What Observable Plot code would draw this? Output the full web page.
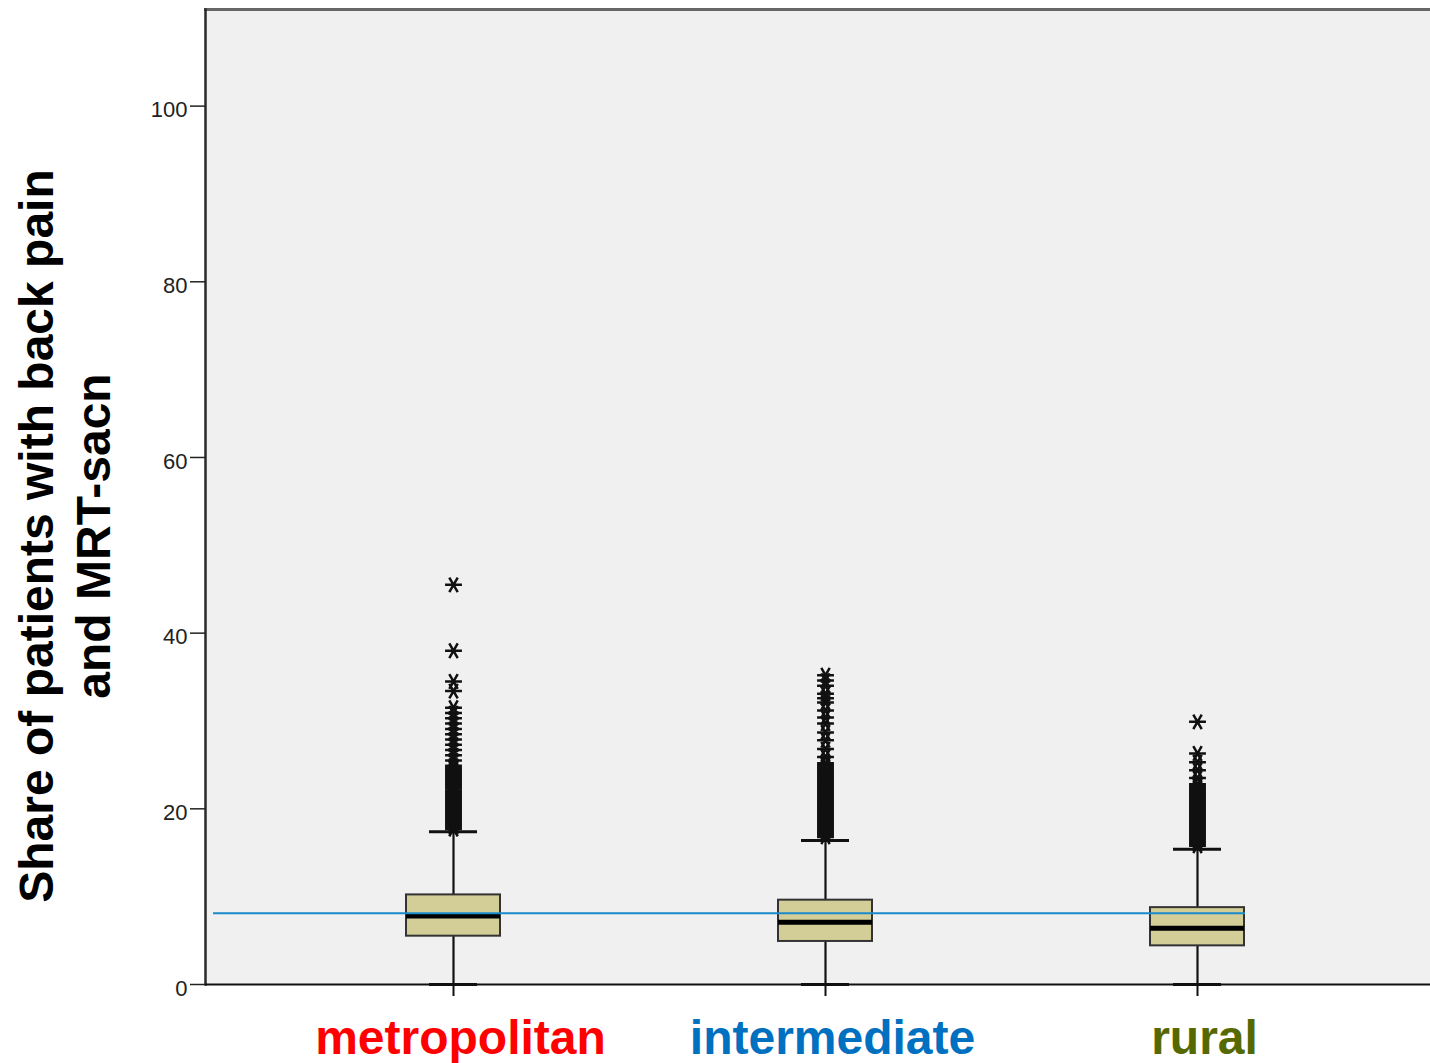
<!DOCTYPE html>
<html>
<head>
<meta charset="utf-8">
<script src="https://cdn.jsdelivr.net/npm/d3@7"></script>
<script src="https://cdn.jsdelivr.net/npm/@observablehq/plot@0.6"></script>
<style>
  html, body { margin: 0; padding: 0; background: #ffffff; }
  #chart svg { display: block; }
</style>
</head>
<body>
<div id="chart"></div>
<script>
// ---- data ----
const categories = ["metropolitan", "intermediate", "rural"];
const labelColors = ["#ff0000", "#0070c0", "#566800"];
const yTicks = [0, 20, 40, 60, 80, 100];
const yTitle = "Share of patients with back pain\nand MRT-sacn";

const q1 = [5.5, 4.9, 4.4];
const median = [7.8, 7.1, 6.4];
const q3 = [10.2, 9.6, 8.75];
const whiskerLow = [0, 0, 0];
const whiskerHigh = [17.4, 16.4, 15.4];
const referenceMean = 8.1;

const metroOutliers = [
  17.7, 17.9, 18.1, 18.3, 18.5, 18.7, 18.9, 19.1, 19.3, 19.5, 19.7, 19.9, 20.1, 20.3, 20.5, 20.7, 20.9, 21.1, 21.3,
  21.5, 21.7, 21.9, 22.1, 22.3, 22.5, 22.7, 22.9, 23.1, 23.3, 23.5, 23.7, 23.9, 24.1, 24.3, 24.5, 24.7, 24.9,
  25.5, 26.1, 26.7, 27.3, 27.9, 28.5, 29.1, 29.7, 30.3, 30.9, 31.5, 33.4, 34.5, 38.0, 45.5
];
const intermediateOutliers = [
  16.8, 17.0, 17.2, 17.4, 17.6, 17.8, 18.0, 18.2, 18.4, 18.6, 18.8, 19.0, 19.2, 19.4, 19.6, 19.8, 20.0, 20.2, 20.4,
  20.6, 20.8, 21.0, 21.2, 21.4, 21.6, 21.8, 22.0, 22.2, 22.4, 22.6, 22.8, 23.0, 23.2, 23.4, 23.6, 23.8, 24.0, 24.2,
  24.4, 24.6, 24.8, 25.0, 25.2,
  25.9, 26.8, 27.8, 28.7, 29.7, 30.4, 31.2, 32.1, 32.6, 33.1, 34.0, 34.6, 35.2
];
const ruralOutliers = [
  15.8, 16.0, 16.2, 16.4, 16.6, 16.8, 17.0, 17.2, 17.4, 17.6, 17.8, 18.0, 18.2, 18.4, 18.6, 18.8, 19.0, 19.2, 19.4,
  19.6, 19.8, 20.0, 20.2, 20.4, 20.6, 20.8, 21.0, 21.2, 21.4, 21.6, 21.8, 22.0, 22.2, 22.4, 22.6, 22.8,
  23.5, 24.4, 25.3, 26.3, 29.9
];

// ---- tables built from the arrays ----
const boxes = categories.map((c, i) => ({
  cat: c, q1: q1[i], med: median[i], q3: q3[i], lo: whiskerLow[i], hi: whiskerHigh[i]
}));
const outliers = [
  ...metroOutliers.map(v => ({cat: categories[0], value: v})),
  ...intermediateOutliers.map(v => ({cat: categories[1], value: v})),
  ...ruralOutliers.map(v => ({cat: categories[2], value: v}))
];

const chart = Plot.plot({
  width: 1430,
  height: 1063,
  marginLeft: 205,
  marginRight: 0,
  marginTop: 9,
  marginBottom: 79,
  style: {
    fontFamily: "'Liberation Sans', Arial, Helvetica, sans-serif",
    color: "#222",
    background: "#ffffff"
  },
  x: {type: "band", domain: categories, range: [205, 1445], paddingInner: 0.747, paddingOuter: 0.54, align: 0.5},
  y: {domain: [0, 111]},
  color: {domain: categories, range: labelColors},
  marks: [
    Plot.frame({fill: "#f0f0f0", stroke: "none"}),
    Plot.frame({anchor: "top", stroke: "#666666", strokeWidth: 3}),
    Plot.frame({anchor: "left", stroke: "#2a2a2a", strokeWidth: 2.5}),
    Plot.axisY({ticks: yTicks, tickSize: 15, tickFormat: () => "", strokeWidth: 1.5, label: null}),
    Plot.axisY({ticks: yTicks, tickSize: 0, tickPadding: 18, dy: 4, fontSize: 22, label: null}),
    Plot.axisX({tickSize: 12, tickFormat: () => "", strokeWidth: 2, stroke: "#111", label: null}),
    Plot.ruleX(boxes, {x: "cat", y1: "lo", y2: "q1", stroke: "#111", strokeWidth: 2.2}),
    Plot.ruleX(boxes, {x: "cat", y1: "q3", y2: "hi", stroke: "#111", strokeWidth: 2.2}),
    Plot.tickY(boxes, {x: "cat", y: "hi", insetLeft: 23, insetRight: 23, stroke: "#111", strokeWidth: 3}),
    Plot.tickY(boxes, {x: "cat", y: "lo", insetLeft: 23, insetRight: 23, stroke: "#111", strokeWidth: 3}),
    Plot.barY(boxes, {x: "cat", y1: "q1", y2: "q3", fill: "#d3ce97", stroke: "#333333", strokeWidth: 2}),
    Plot.tickY(boxes, {x: "cat", y: "med", stroke: "#000", strokeWidth: 5}),
    Plot.ruleY([referenceMean], {stroke: "#1a8acb", strokeWidth: 2, insetLeft: 8, insetRight: 185}),
    Plot.dot(outliers, {x: "cat", y: "value", symbol: "asterisk", r: 8, rotate: 90, stroke: "#111", strokeWidth: 2.5}),
    Plot.ruleY([0], {stroke: "#111", strokeWidth: 2}),
    Plot.text(categories, {
      x: d => d, text: d => d, fill: d => d,
      frameAnchor: "bottom", lineAnchor: "bottom", dy: 69, dx: 7,
      fontSize: 48, fontWeight: "bold"
    }),
    Plot.text([yTitle], {
      text: d => d, frameAnchor: "left", textAnchor: "middle", rotate: -90, dx: -142, dy: 39,
      fontSize: 48, fontWeight: "bold", lineHeight: 1.17, fill: "#000"
    })
  ]
});

document.getElementById("chart").appendChild(chart);
</script>
</body>
</html>
